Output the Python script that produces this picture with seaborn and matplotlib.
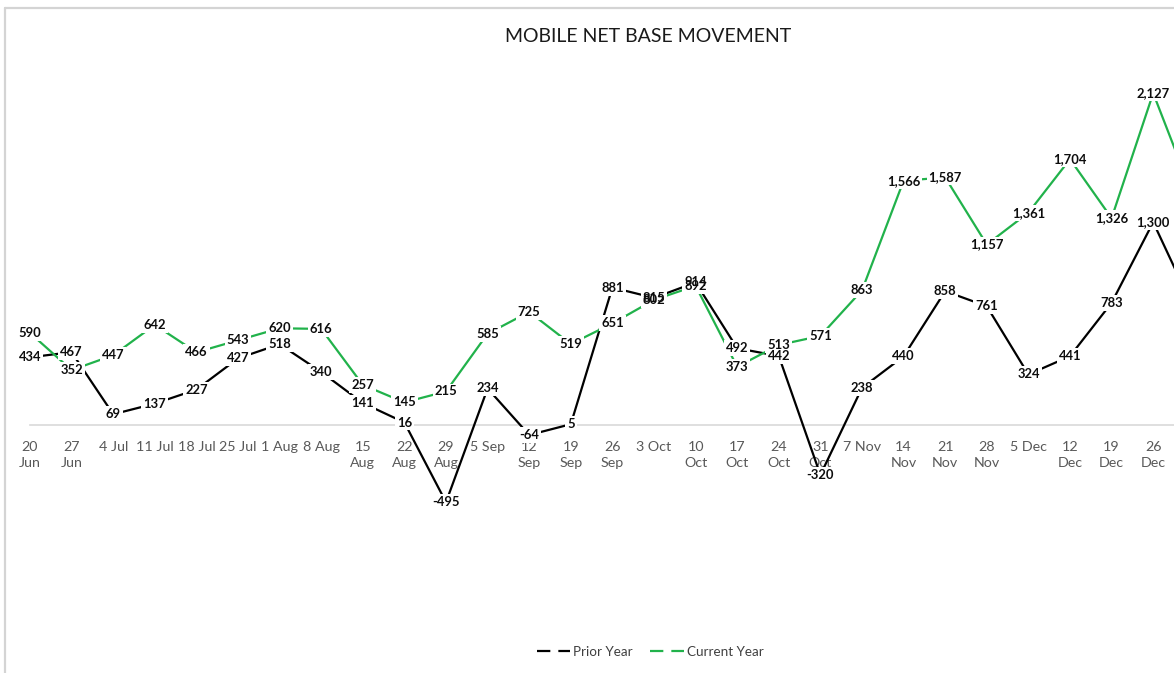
"""Mobile net base movement, prior vs current year weekly line chart"""

import pandas as pd
import seaborn as sns
import matplotlib.pyplot as plt
from matplotlib.lines import Line2D

# weekly categories (the last one sits just past the right edge of the crop)
weeks = ['20\nJun', '27\nJun', '4 Jul', '11 Jul', '18 Jul', '25 Jul', '1 Aug', '8 Aug',
         '15\nAug', '22\nAug', '29\nAug', '5 Sep', '12\nSep', '19\nSep', '26\nSep',
         '3 Oct', '10\nOct', '17\nOct', '24\nOct', '31\nOct', '7 Nov', '14\nNov',
         '21\nNov', '28\nNov', '5 Dec', '12\nDec', '19\nDec', '26\nDec', '2 Jan']
prior_year = [434, 467, 69, 137, 227, 427, 518, 340, 141, 16, -495, 234, -64, 5, 881,
              815, 914, 492, 442, -320, 238, 440, 858, 761, 324, 441, 783, 1300, 730]
current_year = [590, 352, 447, 642, 466, 543, 620, 616, 257, 145, 215, 585, 725, 519, 651,
                802, 892, 373, 513, 571, 863, 1566, 1587, 1157, 1361, 1704, 1326, 2127, 1440]

series_names = ['Prior Year', 'Current Year']
colors = {'Prior Year': '#000000', 'Current Year': '#21b24b'}

df = pd.concat([
    pd.DataFrame({'pos': range(len(weeks)), 'value': prior_year, 'series': 'Prior Year'}),
    pd.DataFrame({'pos': range(len(weeks)), 'value': current_year, 'series': 'Current Year'}),
])

sns.set_style('white')
plt.rcParams['font.family'] = ['Lato', 'DejaVu Sans']

W, H = 1174, 673
fig = plt.figure(figsize=(W / 100, H / 100), dpi=100)
# place the axes in pixels so the zero line and spacing line up with the reference
left, top, bottom = 30, 60, 600
step = 41.6
ax = fig.add_axes([left / W, 1 - bottom / H, step * (len(weeks) - 1) / W, (bottom - top) / H])

sns.lineplot(data=df, x='pos', y='value', hue='series', palette=colors,
             hue_order=series_names, sort=False, linewidth=1.6, ax=ax, legend=False)

# only the weeks that are visible in the crop get labels
visible = len(weeks) - 1

# data labels centred on the points: white boxes first, text on top so that
# overlapping labels (3 Oct, 10 Oct) both stay readable like in Excel
for name, vals in zip(series_names, [prior_year, current_year]):
    for i, v in enumerate(vals[:visible]):
        ax.text(i, v, f'{v:,}', ha='center', va='center', fontsize=9.4,
                fontweight='bold', color='none', zorder=4,
                bbox=dict(boxstyle='square,pad=0.15', fc='white', ec='none'))
for name, vals in zip(series_names, [prior_year, current_year]):
    for i, v in enumerate(vals[:visible]):
        ax.text(i, v, f'{v:,}', ha='center', va='center', fontsize=9.4,
                fontweight='bold', color='#0d0d0d', zorder=5)

scale = 0.156  # pixels per unit
ax.set_ylim(-(bottom - 425) / scale, (425 - top) / scale)
ax.set_xlim(0, len(weeks) - 1)

for s in ['top', 'right', 'left']:
    ax.spines[s].set_visible(False)
ax.spines['bottom'].set_position(('data', 0))
ax.spines['bottom'].set_color('#d9d9d9')
ax.spines['bottom'].set_linewidth(1.2)
ax.spines['bottom'].set_zorder(1)

ax.set_yticks([])
ax.set_xticks(range(visible))
ax.set_xticklabels(weeks[:visible], fontsize=10.3, color='#595959', linespacing=1.45)
ax.tick_params(axis='x', direction='out', length=3.5, width=1, color='#d9d9d9', pad=8)
ax.set_xlabel('')
ax.set_ylabel('')

fig.text(648 / W, 1 - 37 / H, 'MOBILE NET BASE MOVEMENT', ha='center', va='center',
         fontsize=14, color='#1a1a1a')

handles = [Line2D([], [], color=colors[n], lw=1.6, linestyle=(0, (6, 3.6))) for n in series_names]
fig.legend(handles, series_names, loc='center', bbox_to_anchor=(650 / W, 1 - 652 / H),
           ncol=2, frameon=False, fontsize=9.7, labelcolor='#404040',
           handlelength=2.5, handletextpad=0.2, columnspacing=1.3)

# chart border (left and top edges visible in the crop)
fig.add_artist(Line2D([5 / W, 5 / W], [0, 1 - 8 / H], color='#d4d4d4', lw=1.6))
fig.add_artist(Line2D([5 / W, 1], [1 - 8 / H, 1 - 8 / H], color='#d4d4d4', lw=1.6))

plt.savefig('out.png', dpi=100)
plt.close()
